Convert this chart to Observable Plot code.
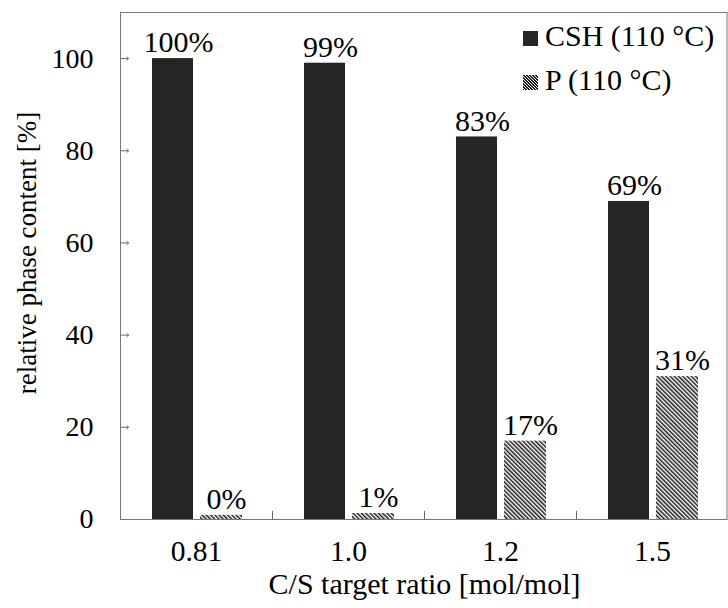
<!DOCTYPE html>
<html><head><meta charset="utf-8">
<script src="https://cdn.jsdelivr.net/npm/d3@7"></script>
<script src="https://cdn.jsdelivr.net/npm/@observablehq/plot@0.6"></script>
<style>
html,body{margin:0;padding:0;background:#fff;}
#wrap{position:relative;width:728px;height:608px;}
.lg-sw{position:absolute;width:15px;height:15px;}
.lg-tx{position:absolute;font-size:30px;line-height:30px;white-space:nowrap;color:#000;}
</style></head><body><div id="wrap"></div>
<script>
const categories = ["0.81", "1.0", "1.2", "1.5"];
const seriesNames = ["CSH (110 °C)", "P (110 °C)"];
const cshValues = [100, 99, 83, 69];
const pValues = [0.9, 1.3, 17, 31];
const cshLabels = ["100%", "99%", "83%", "69%"];
const pLabels = ["0%", "1%", "17%", "31%"];
const yTicks = [0, 20, 40, 60, 80, 100];
const xTitle = "C/S target ratio [mol/mol]";
const yTitle = "relative phase content [%]";

const csh = categories.map((c, i) => ({cat: c, value: cshValues[i], label: cshLabels[i]}));
const p = categories.map((c, i) => ({cat: c, value: pValues[i], label: pLabels[i]}));

// pick an installed Times-like serif font
function hasFont(name) {
  const ctx = document.createElement("canvas").getContext("2d");
  const s = "abcdefghijklmnopqrstuvwxyzABCDEFGHIJ0123456789%[]()";
  return ["monospace", "sans-serif", "serif"].some(base => {
    ctx.font = `40px ${base}`;
    const w0 = ctx.measureText(s).width;
    ctx.font = `40px "${name}", ${base}`;
    const w1 = ctx.measureText(s).width;
    return Math.abs(w0 - w1) > 0.01;
  });
}
const serifCandidates = ["Liberation Serif", "Times New Roman", "Tinos", "Nimbus Roman", "FreeSerif", "DejaVu Serif", "Noto Serif"];
const chosen = serifCandidates.find(hasFont);
const FONT = (chosen ? `"${chosen}", ` : "") + "serif";
document.getElementById("wrap").style.fontFamily = FONT;

const DARK = "#262626";

const chart = Plot.plot({
  width: 728,
  height: 608,
  marginLeft: 120,
  marginRight: 0,
  marginTop: 12,
  marginBottom: 89,
  style: {fontFamily: FONT, fontSize: "28px", color: "#000", background: "#fff", overflow: "visible"},
  x: {domain: categories, padding: 0, label: null},
  y: {domain: [0, 110], label: null},
  marks: [
    Plot.barY(csh, {x: "cat", y: "value", fill: DARK, insetLeft: 32, insetRight: 79}),
    Plot.barY(p, {x: "cat", y: "value", fill: "url(#hatchP)", insetLeft: 80, insetRight: 30}),
    Plot.text(csh, {x: "cat", y: "value", text: "label", dx: -18, dy: -16, fontSize: 30, fontFamily: FONT, fill: "#000"}),
    Plot.text(p, {x: "cat", y: "value", text: "label", dx: 30, dy: -16, fontSize: 30, fontFamily: FONT, fill: "#000"}),
    // inward ticks on the x axis at the category boundaries
    Plot.ruleX(categories.slice(1), {x: d => d, y1: 0, y2: 1.75, dx: -76, stroke: "#666"}),
    // inward ticks on the y axis
    Plot.vector(yTicks.slice(1), {y: d => d, frameAnchor: "left", length: 8, rotate: 90, anchor: "start", stroke: "#666", strokeWidth: 1}),
    Plot.axisY({ticks: yTicks, tickSize: 0, tickPadding: 27, label: null, fontSize: 28, fontFamily: FONT}),
    Plot.axisX({tickSize: 0, tickPadding: 21, label: null, fontSize: 29.5, fontFamily: FONT}),
    Plot.text([xTitle], {frameAnchor: "bottom", lineAnchor: "bottom", textAnchor: "middle", dy: 74, fontSize: 30, fontFamily: FONT, fill: "#000"}),
    Plot.text([yTitle], {frameAnchor: "left", rotate: -90, textAnchor: "middle", dx: -93, dy: -13, fontSize: 27, fontFamily: FONT, fill: "#000"}),
    Plot.frame({stroke: "#777", insetRight: 1.5})
  ]
});

d3.select(chart).insert("defs", ":first-child").html(
  `<pattern id="hatchP" patternUnits="userSpaceOnUse" width="3" height="3" patternTransform="rotate(-45)">
     <rect width="3" height="3" fill="#fff"/>
     <rect width="1.5" height="3" fill="#1a1a1a"/>
   </pattern>`
);

const wrap = document.getElementById("wrap");
wrap.appendChild(chart);

// legend (inside plot, top right)
const legendRows = [
  {name: seriesNames[0], bg: DARK, top: 31, textTop: 20.9},
  {name: seriesNames[1], bg: "repeating-linear-gradient(45deg, #1a1a1a 0px, #1a1a1a 1.06px, #fff 1.06px, #fff 2.12px)", top: 75, textTop: 64.9}
];
legendRows.forEach(r => {
  const sw = document.createElement("div");
  sw.className = "lg-sw";
  sw.style.left = "523px";
  sw.style.top = r.top + "px";
  sw.style.background = r.bg;
  wrap.appendChild(sw);
  const tx = document.createElement("div");
  tx.className = "lg-tx";
  tx.style.left = "545px";
  tx.style.top = r.textTop + "px";
  tx.style.fontFamily = FONT;
  tx.textContent = r.name;
  wrap.appendChild(tx);
});
</script></body></html>
